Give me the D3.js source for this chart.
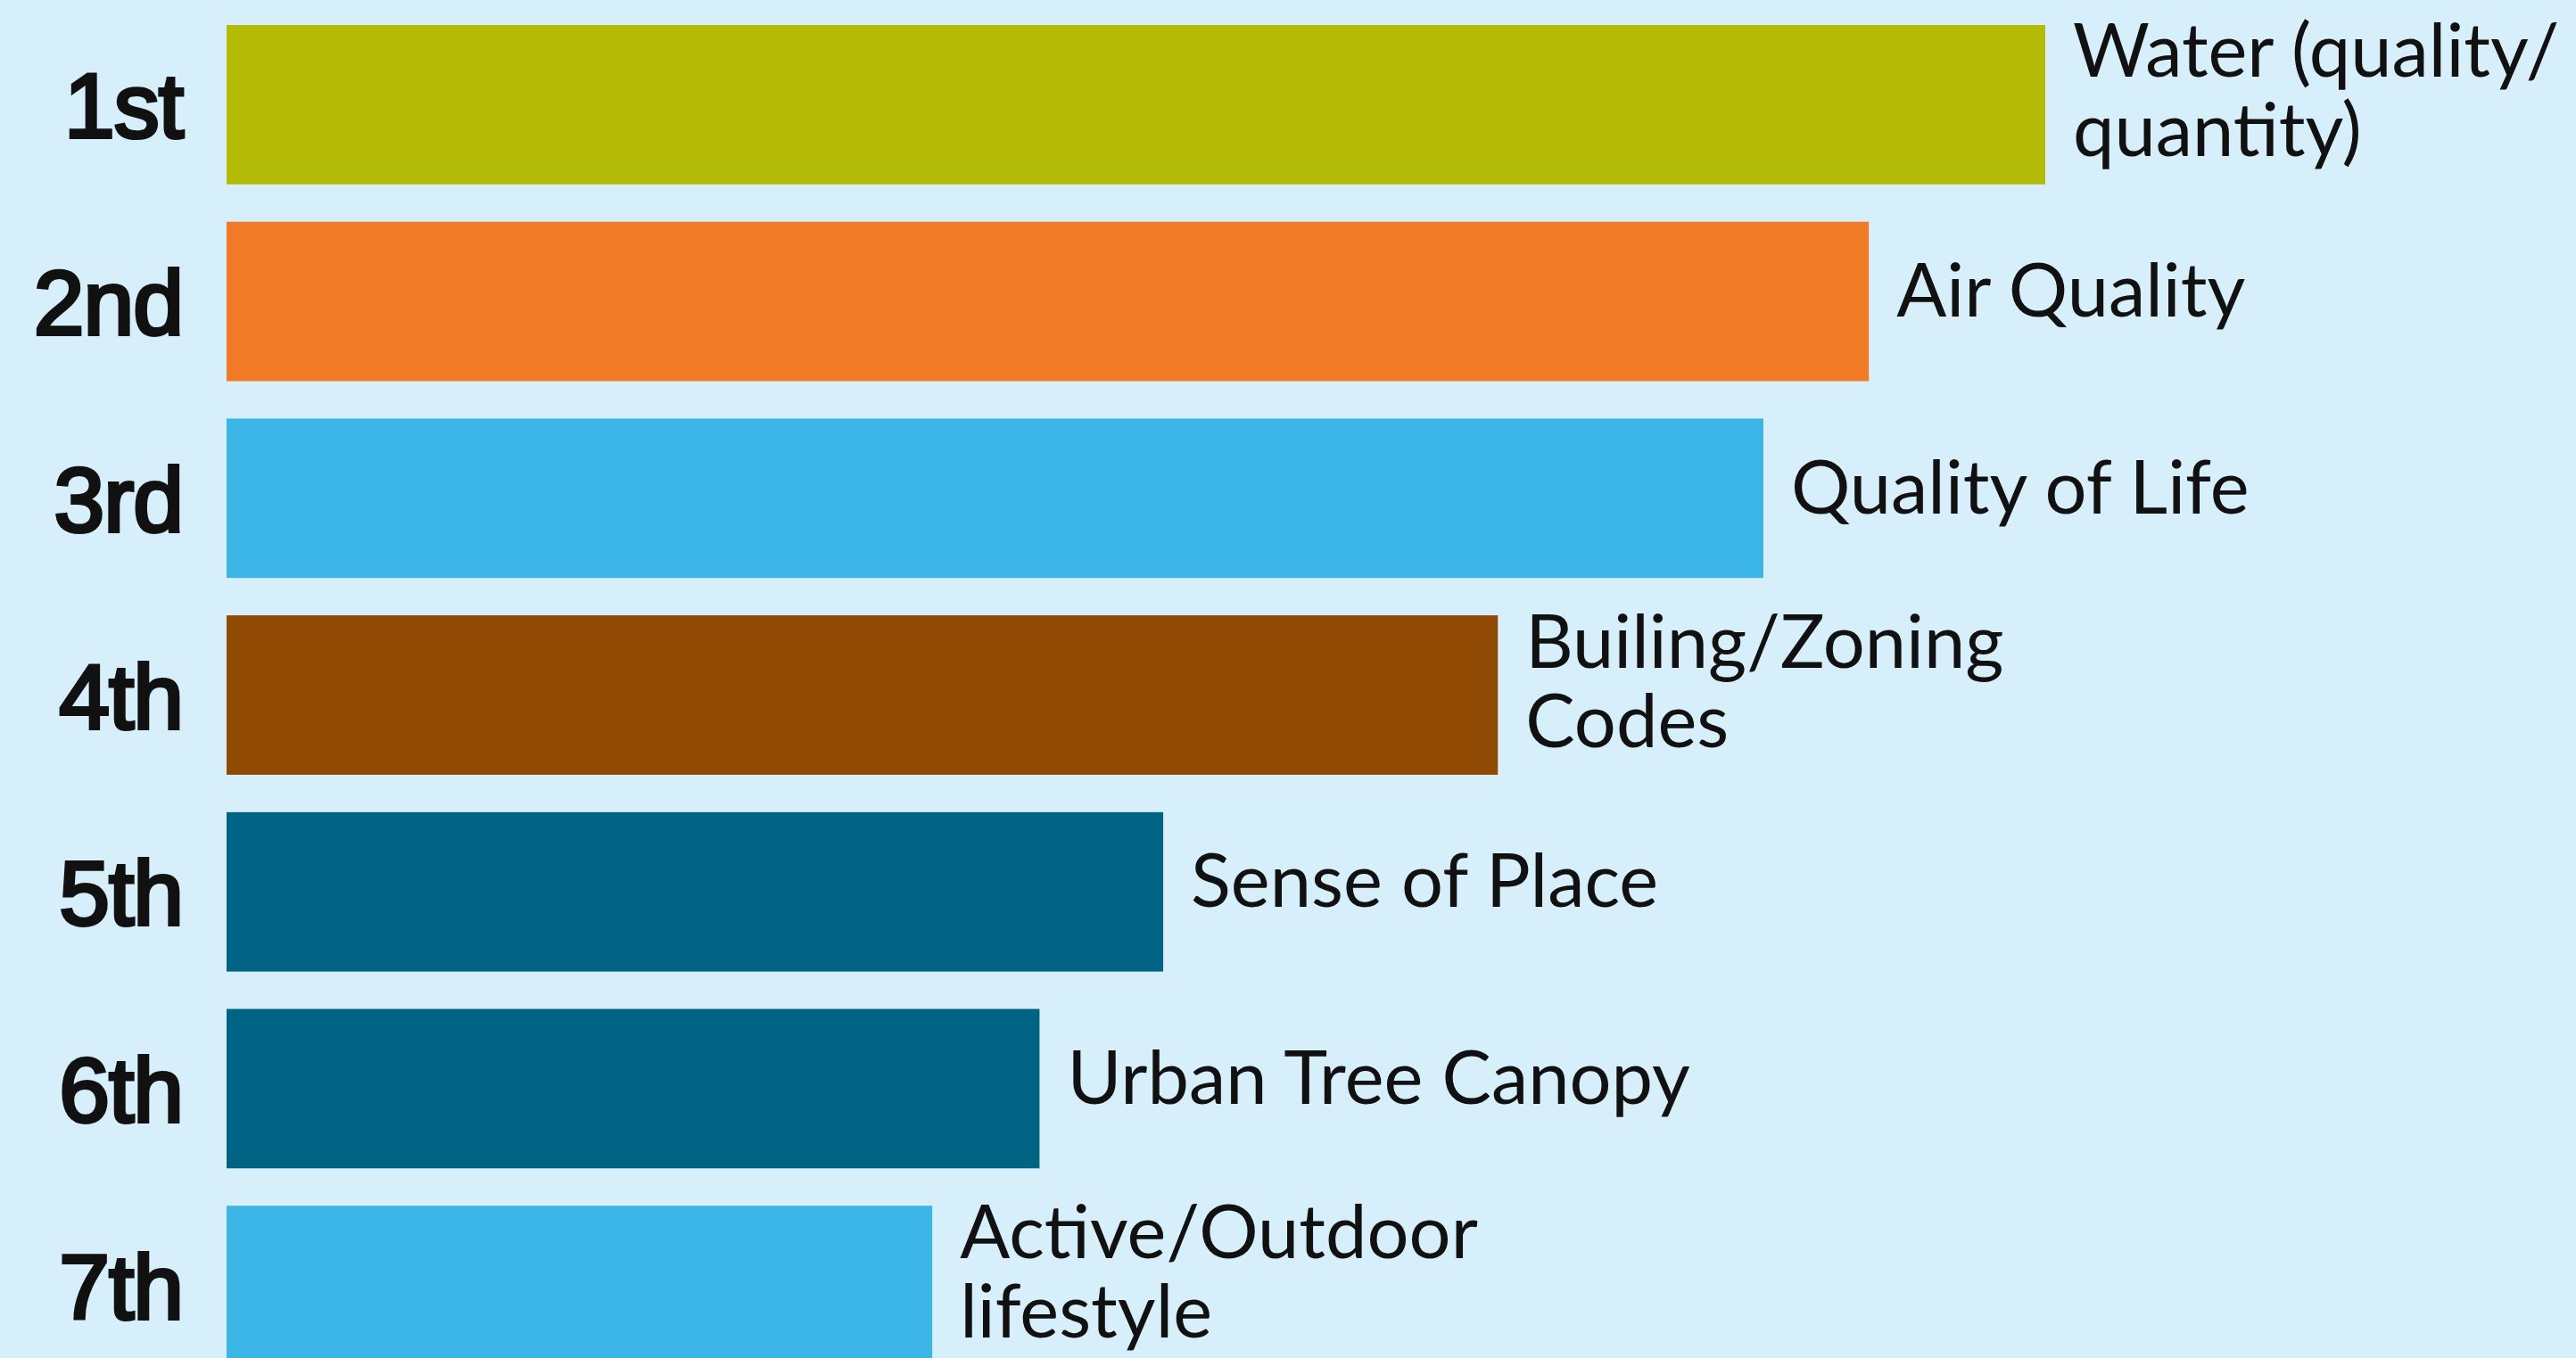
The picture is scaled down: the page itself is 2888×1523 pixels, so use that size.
<!DOCTYPE html>
<html>
<head>
<meta charset="utf-8">
<script src="https://cdn.jsdelivr.net/npm/d3@7"></script>
<style>
  html, body { margin: 0; padding: 0; background: #d7effa; }
  svg { display: block; }
</style>
</head>
<body>
<div id="grafico"></div>
<script>
/*************************** DADOS ***************************/
var ranks = ['1st', '2nd', '3rd', '4th', '5th', '6th', '7th'];
var categorias = [
    ['Water (quality/', 'quantity)'],
    ['Air Quality'],
    ['Quality of Life'],
    ['Builing/Zoning', 'Codes'],
    ['Sense of Place'],
    ['Urban Tree Canopy'],
    ['Active/Outdoor', 'lifestyle']
];
var valores = [100, 90.3, 84.5, 69.9, 51.5, 44.7, 38.8];   // comprimento relativo (1o = 100)
var cores = ['#b3bb06', '#f07a25', '#3bb5e6', '#904a03', '#006384', '#006384', '#3bb5e6'];

/*************************** LAYOUT ***************************/
var largura = 2888;
var altura = 1523;
var fundo = '#d7effa';

var svg = d3.select('#grafico')
    .append('svg')
    .attr('width', largura)
    .attr('height', altura);

svg.append('rect')
    .attr('width', largura)
    .attr('height', altura)
    .attr('fill', fundo);

var x = d3.scaleLinear()
    .domain([0, 100])
    .range([254, 2293]);

var y = d3.scaleBand()
    .domain(ranks)
    .range([28, 1531])
    .paddingInner(0.19)
    .paddingOuter(0);

// barras
svg.append('g').attr('id', 'gbarras')
    .selectAll('rect')
    .data(valores)
    .enter()
    .append('rect')
    .attr('x', x(0))
    .attr('y', function(d, i) { return y(ranks[i]); })
    .attr('width', function(d) { return x(d) - x(0); })
    .attr('height', y.bandwidth())
    .attr('fill', function(d, i) { return cores[i]; });

// posições (1st, 2nd...) - regular com contorno para ficar semi-negrito
svg.append('g').attr('id', 'granks')
    .selectAll('text')
    .data(ranks)
    .enter()
    .append('text')
    .text(function(d) { return d; })
    .attr('x', 205)
    .attr('y', function(d) { return y(d) + y.bandwidth() / 2 + 37; })
    .attr('text-anchor', 'end')
    .style('font-family', '"Liberation Sans", Arial, sans-serif')
    .style('font-size', '102px')
    .style('letter-spacing', '-1px')
    .style('fill', '#111')
    .style('stroke', '#111')
    .style('stroke-width', '4px');

// nomes das categorias, ao lado de cada barra
var grotulos = svg.append('g').attr('id', 'grotulos');
categorias.forEach(function(linhas, i) {
    var centro = y(ranks[i]) + y.bandwidth() / 2;
    var base = linhas.length === 1 ? centro + 17 : centro - 31;
    linhas.forEach(function(l, j) {
        grotulos.append('text')
            .attr('x', x(valores[i]) + 31)
            .attr('y', base + j * 89)
            .style('font-family', 'Lato, sans-serif')
            .style('font-size', '83px')
            .style('fill', '#111')
            .text(l);
    });
});
</script>
</body>
</html>
